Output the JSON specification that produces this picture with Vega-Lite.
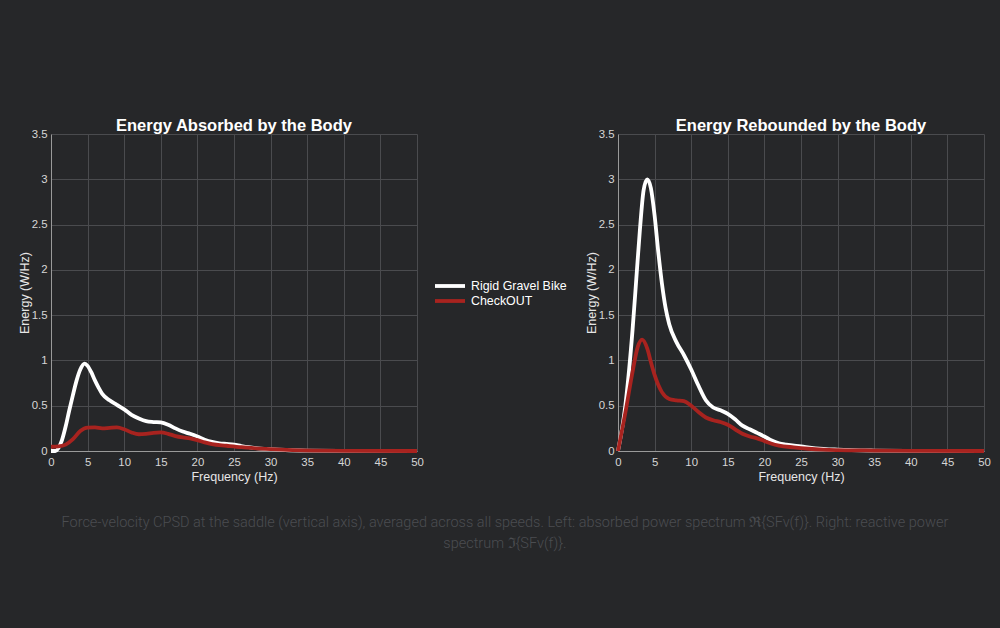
{
  "$schema": "https://vega.github.io/schema/vega-lite/v6.json",
  "background": "#262729",
  "padding": {"left": 18, "top": 117, "right": 10, "bottom": 79},
  "title": {
    "text": ["Force-velocity CPSD at the saddle (vertical axis), averaged across all speeds. Left: absorbed power spectrum ℜ{SFv(f)}. Right: reactive power", "spectrum ℑ{SFv(f)}."],
    "orient": "bottom",
    "anchor": "middle",
    "frame": "bounds",
    "font": "Roboto",
    "fontWeight": 300,
    "fontSize": 14.5,
    "lineHeight": 21,
    "color": "#4b4d51",
    "offset": 33
  },
  "datasets": {
    "spectra": [
      {"panel": "A", "s": "Rigid Gravel Bike", "f": 0, "e": 0.0},
      {"panel": "A", "s": "Rigid Gravel Bike", "f": 0.6, "e": 0.0},
      {"panel": "A", "s": "Rigid Gravel Bike", "f": 1, "e": 0.03},
      {"panel": "A", "s": "Rigid Gravel Bike", "f": 1.5, "e": 0.12},
      {"panel": "A", "s": "Rigid Gravel Bike", "f": 2, "e": 0.27},
      {"panel": "A", "s": "Rigid Gravel Bike", "f": 2.5, "e": 0.45},
      {"panel": "A", "s": "Rigid Gravel Bike", "f": 3, "e": 0.62},
      {"panel": "A", "s": "Rigid Gravel Bike", "f": 3.5, "e": 0.78},
      {"panel": "A", "s": "Rigid Gravel Bike", "f": 4, "e": 0.9},
      {"panel": "A", "s": "Rigid Gravel Bike", "f": 4.6, "e": 0.965},
      {"panel": "A", "s": "Rigid Gravel Bike", "f": 5, "e": 0.94},
      {"panel": "A", "s": "Rigid Gravel Bike", "f": 5.5, "e": 0.87},
      {"panel": "A", "s": "Rigid Gravel Bike", "f": 6, "e": 0.78},
      {"panel": "A", "s": "Rigid Gravel Bike", "f": 6.5, "e": 0.7},
      {"panel": "A", "s": "Rigid Gravel Bike", "f": 7, "e": 0.63},
      {"panel": "A", "s": "Rigid Gravel Bike", "f": 8, "e": 0.56},
      {"panel": "A", "s": "Rigid Gravel Bike", "f": 9, "e": 0.51},
      {"panel": "A", "s": "Rigid Gravel Bike", "f": 10, "e": 0.46},
      {"panel": "A", "s": "Rigid Gravel Bike", "f": 11, "e": 0.4},
      {"panel": "A", "s": "Rigid Gravel Bike", "f": 12, "e": 0.36},
      {"panel": "A", "s": "Rigid Gravel Bike", "f": 13, "e": 0.33},
      {"panel": "A", "s": "Rigid Gravel Bike", "f": 14, "e": 0.32},
      {"panel": "A", "s": "Rigid Gravel Bike", "f": 15, "e": 0.315},
      {"panel": "A", "s": "Rigid Gravel Bike", "f": 16, "e": 0.29},
      {"panel": "A", "s": "Rigid Gravel Bike", "f": 17, "e": 0.25},
      {"panel": "A", "s": "Rigid Gravel Bike", "f": 18, "e": 0.215},
      {"panel": "A", "s": "Rigid Gravel Bike", "f": 19, "e": 0.19},
      {"panel": "A", "s": "Rigid Gravel Bike", "f": 20, "e": 0.16},
      {"panel": "A", "s": "Rigid Gravel Bike", "f": 21, "e": 0.125},
      {"panel": "A", "s": "Rigid Gravel Bike", "f": 22, "e": 0.1},
      {"panel": "A", "s": "Rigid Gravel Bike", "f": 23, "e": 0.085},
      {"panel": "A", "s": "Rigid Gravel Bike", "f": 24, "e": 0.078},
      {"panel": "A", "s": "Rigid Gravel Bike", "f": 25, "e": 0.07},
      {"panel": "A", "s": "Rigid Gravel Bike", "f": 26, "e": 0.055},
      {"panel": "A", "s": "Rigid Gravel Bike", "f": 27, "e": 0.042},
      {"panel": "A", "s": "Rigid Gravel Bike", "f": 28, "e": 0.032},
      {"panel": "A", "s": "Rigid Gravel Bike", "f": 30, "e": 0.02},
      {"panel": "A", "s": "Rigid Gravel Bike", "f": 32, "e": 0.011},
      {"panel": "A", "s": "Rigid Gravel Bike", "f": 35, "e": 0.005},
      {"panel": "A", "s": "Rigid Gravel Bike", "f": 40, "e": 0.002},
      {"panel": "A", "s": "Rigid Gravel Bike", "f": 45, "e": 0.001},
      {"panel": "A", "s": "Rigid Gravel Bike", "f": 50, "e": 0.0},
      {"panel": "A", "s": "CheckOUT", "f": 0, "e": 0.047},
      {"panel": "A", "s": "CheckOUT", "f": 1, "e": 0.05},
      {"panel": "A", "s": "CheckOUT", "f": 2, "e": 0.07},
      {"panel": "A", "s": "CheckOUT", "f": 3, "e": 0.13},
      {"panel": "A", "s": "CheckOUT", "f": 4, "e": 0.22},
      {"panel": "A", "s": "CheckOUT", "f": 5, "e": 0.258},
      {"panel": "A", "s": "CheckOUT", "f": 6, "e": 0.26},
      {"panel": "A", "s": "CheckOUT", "f": 7, "e": 0.25},
      {"panel": "A", "s": "CheckOUT", "f": 8, "e": 0.255},
      {"panel": "A", "s": "CheckOUT", "f": 9, "e": 0.26},
      {"panel": "A", "s": "CheckOUT", "f": 10, "e": 0.24},
      {"panel": "A", "s": "CheckOUT", "f": 11, "e": 0.205},
      {"panel": "A", "s": "CheckOUT", "f": 12, "e": 0.185},
      {"panel": "A", "s": "CheckOUT", "f": 13, "e": 0.19},
      {"panel": "A", "s": "CheckOUT", "f": 14, "e": 0.2},
      {"panel": "A", "s": "CheckOUT", "f": 15, "e": 0.205},
      {"panel": "A", "s": "CheckOUT", "f": 16, "e": 0.19},
      {"panel": "A", "s": "CheckOUT", "f": 17, "e": 0.165},
      {"panel": "A", "s": "CheckOUT", "f": 18, "e": 0.15},
      {"panel": "A", "s": "CheckOUT", "f": 19, "e": 0.14},
      {"panel": "A", "s": "CheckOUT", "f": 20, "e": 0.12},
      {"panel": "A", "s": "CheckOUT", "f": 21, "e": 0.095},
      {"panel": "A", "s": "CheckOUT", "f": 22, "e": 0.075},
      {"panel": "A", "s": "CheckOUT", "f": 24, "e": 0.058},
      {"panel": "A", "s": "CheckOUT", "f": 26, "e": 0.042},
      {"panel": "A", "s": "CheckOUT", "f": 28, "e": 0.03},
      {"panel": "A", "s": "CheckOUT", "f": 30, "e": 0.02},
      {"panel": "A", "s": "CheckOUT", "f": 33, "e": 0.01},
      {"panel": "A", "s": "CheckOUT", "f": 36, "e": 0.005},
      {"panel": "A", "s": "CheckOUT", "f": 40, "e": 0.002},
      {"panel": "A", "s": "CheckOUT", "f": 50, "e": 0.0},
      {"panel": "R", "s": "Rigid Gravel Bike", "f": 0, "e": 0.0},
      {"panel": "R", "s": "Rigid Gravel Bike", "f": 1, "e": 0.5},
      {"panel": "R", "s": "Rigid Gravel Bike", "f": 2, "e": 1.35},
      {"panel": "R", "s": "Rigid Gravel Bike", "f": 2.5, "e": 1.9},
      {"panel": "R", "s": "Rigid Gravel Bike", "f": 3, "e": 2.45},
      {"panel": "R", "s": "Rigid Gravel Bike", "f": 3.5, "e": 2.88},
      {"panel": "R", "s": "Rigid Gravel Bike", "f": 4, "e": 3.0},
      {"panel": "R", "s": "Rigid Gravel Bike", "f": 4.5, "e": 2.9},
      {"panel": "R", "s": "Rigid Gravel Bike", "f": 5, "e": 2.6},
      {"panel": "R", "s": "Rigid Gravel Bike", "f": 5.5, "e": 2.2},
      {"panel": "R", "s": "Rigid Gravel Bike", "f": 6, "e": 1.85},
      {"panel": "R", "s": "Rigid Gravel Bike", "f": 6.5, "e": 1.58},
      {"panel": "R", "s": "Rigid Gravel Bike", "f": 7, "e": 1.4},
      {"panel": "R", "s": "Rigid Gravel Bike", "f": 8, "e": 1.2},
      {"panel": "R", "s": "Rigid Gravel Bike", "f": 9, "e": 1.06},
      {"panel": "R", "s": "Rigid Gravel Bike", "f": 10, "e": 0.9},
      {"panel": "R", "s": "Rigid Gravel Bike", "f": 11, "e": 0.72},
      {"panel": "R", "s": "Rigid Gravel Bike", "f": 12, "e": 0.56},
      {"panel": "R", "s": "Rigid Gravel Bike", "f": 13, "e": 0.48},
      {"panel": "R", "s": "Rigid Gravel Bike", "f": 14, "e": 0.45},
      {"panel": "R", "s": "Rigid Gravel Bike", "f": 15, "e": 0.41},
      {"panel": "R", "s": "Rigid Gravel Bike", "f": 16, "e": 0.35},
      {"panel": "R", "s": "Rigid Gravel Bike", "f": 17, "e": 0.28},
      {"panel": "R", "s": "Rigid Gravel Bike", "f": 18, "e": 0.24},
      {"panel": "R", "s": "Rigid Gravel Bike", "f": 19, "e": 0.2},
      {"panel": "R", "s": "Rigid Gravel Bike", "f": 20, "e": 0.16},
      {"panel": "R", "s": "Rigid Gravel Bike", "f": 21, "e": 0.115},
      {"panel": "R", "s": "Rigid Gravel Bike", "f": 22, "e": 0.085},
      {"panel": "R", "s": "Rigid Gravel Bike", "f": 23, "e": 0.07},
      {"panel": "R", "s": "Rigid Gravel Bike", "f": 25, "e": 0.05},
      {"panel": "R", "s": "Rigid Gravel Bike", "f": 27, "e": 0.03},
      {"panel": "R", "s": "Rigid Gravel Bike", "f": 30, "e": 0.015},
      {"panel": "R", "s": "Rigid Gravel Bike", "f": 35, "e": 0.005},
      {"panel": "R", "s": "Rigid Gravel Bike", "f": 40, "e": 0.002},
      {"panel": "R", "s": "Rigid Gravel Bike", "f": 50, "e": 0.0},
      {"panel": "R", "s": "CheckOUT", "f": 0, "e": 0.0},
      {"panel": "R", "s": "CheckOUT", "f": 1, "e": 0.42},
      {"panel": "R", "s": "CheckOUT", "f": 2, "e": 0.88},
      {"panel": "R", "s": "CheckOUT", "f": 2.7, "e": 1.15},
      {"panel": "R", "s": "CheckOUT", "f": 3.3, "e": 1.23},
      {"panel": "R", "s": "CheckOUT", "f": 4, "e": 1.13},
      {"panel": "R", "s": "CheckOUT", "f": 4.5, "e": 0.98},
      {"panel": "R", "s": "CheckOUT", "f": 5, "e": 0.84},
      {"panel": "R", "s": "CheckOUT", "f": 6, "e": 0.65},
      {"panel": "R", "s": "CheckOUT", "f": 7, "e": 0.575},
      {"panel": "R", "s": "CheckOUT", "f": 8, "e": 0.56},
      {"panel": "R", "s": "CheckOUT", "f": 9, "e": 0.55},
      {"panel": "R", "s": "CheckOUT", "f": 10, "e": 0.5},
      {"panel": "R", "s": "CheckOUT", "f": 11, "e": 0.43},
      {"panel": "R", "s": "CheckOUT", "f": 12, "e": 0.37},
      {"panel": "R", "s": "CheckOUT", "f": 13, "e": 0.34},
      {"panel": "R", "s": "CheckOUT", "f": 14, "e": 0.32},
      {"panel": "R", "s": "CheckOUT", "f": 15, "e": 0.29},
      {"panel": "R", "s": "CheckOUT", "f": 16, "e": 0.24},
      {"panel": "R", "s": "CheckOUT", "f": 17, "e": 0.19},
      {"panel": "R", "s": "CheckOUT", "f": 18, "e": 0.16},
      {"panel": "R", "s": "CheckOUT", "f": 19, "e": 0.14},
      {"panel": "R", "s": "CheckOUT", "f": 20, "e": 0.11},
      {"panel": "R", "s": "CheckOUT", "f": 21, "e": 0.08},
      {"panel": "R", "s": "CheckOUT", "f": 22, "e": 0.06},
      {"panel": "R", "s": "CheckOUT", "f": 24, "e": 0.04},
      {"panel": "R", "s": "CheckOUT", "f": 26, "e": 0.025},
      {"panel": "R", "s": "CheckOUT", "f": 28, "e": 0.015},
      {"panel": "R", "s": "CheckOUT", "f": 30, "e": 0.01},
      {"panel": "R", "s": "CheckOUT", "f": 35, "e": 0.005},
      {"panel": "R", "s": "CheckOUT", "f": 40, "e": 0.002},
      {"panel": "R", "s": "CheckOUT", "f": 50, "e": 0.0}
    ]
  },
  "data": {"name": "spectra"},
  "spacing": 160,
  "hconcat": [
    {
      "title": "Energy Absorbed by the Body",
      "width": 366,
      "height": 317,
      "transform": [{"filter": "datum.panel === 'A'"}],
      "mark": {"type": "line", "interpolate": "monotone", "strokeWidth": 3.8},
      "encoding": {
        "x": {"field": "f", "type": "quantitative", "title": "Frequency (Hz)", "scale": {"domain": [0, 50], "nice": false}, "axis": {"values": [0, 5, 10, 15, 20, 25, 30, 35, 40, 45, 50], "format": "d"}},
        "y": {"field": "e", "type": "quantitative", "title": "Energy (W/Hz)", "scale": {"domain": [0, 3.5], "nice": false}, "axis": {"values": [0, 0.5, 1, 1.5, 2, 2.5, 3, 3.5], "format": "~g"}},
        "color": {"field": "s", "type": "nominal", "sort": ["Rigid Gravel Bike", "CheckOUT"], "scale": {"domain": ["Rigid Gravel Bike", "CheckOUT"], "range": ["#ffffff", "#a8231f"]}, "legend": {"title": null}}
      }
    },
    {
      "title": "Energy Rebounded by the Body",
      "width": 366,
      "height": 317,
      "transform": [{"filter": "datum.panel === 'R'"}],
      "mark": {"type": "line", "interpolate": "monotone", "strokeWidth": 3.8},
      "encoding": {
        "x": {"field": "f", "type": "quantitative", "title": "Frequency (Hz)", "scale": {"domain": [0, 50], "nice": false}, "axis": {"values": [0, 5, 10, 15, 20, 25, 30, 35, 40, 45, 50], "format": "d"}},
        "y": {"field": "e", "type": "quantitative", "title": "Energy (W/Hz)", "scale": {"domain": [0, 3.5], "nice": false}, "axis": {"values": [0, 0.5, 1, 1.5, 2, 2.5, 3, 3.5], "format": "~g"}},
        "color": {"field": "s", "type": "nominal", "sort": ["Rigid Gravel Bike", "CheckOUT"], "scale": {"domain": ["Rigid Gravel Bike", "CheckOUT"], "range": ["#ffffff", "#a8231f"]}, "legend": {"title": null}}
      }
    }
  ],
  "config": {
    "font": "Liberation Sans",
    "view": {"stroke": null},
    "title": {"fontSize": 16.5, "fontWeight": "bold", "color": "#ffffff", "frame": "group", "anchor": "middle", "offset": -6},
    "axis": {
      "domainColor": "#9a9a9a",
      "domainWidth": 1,
      "gridColor": "#4a4b4e",
      "gridWidth": 1,
      "gridOpacity": 1,
      "ticks": false,
      "labelFlush": false,
      "labelOverlap": false,
      "labelColor": "#d6d6d6",
      "labelFontSize": 11.4,
      "titleColor": "#e6e6e6",
      "titleFontSize": 12.5,
      "titleFontWeight": "normal"
    },
    "axisX": {"labelPadding": 5, "titlePadding": 3},
    "axisY": {"labelPadding": 4, "titlePadding": 0},
    "legend": {
      "orient": "none",
      "legendX": 382,
      "legendY": 145,
      "symbolType": "M-1,0H5",
      "symbolStrokeWidth": 3.8,
      "symbolSize": 100,
      "labelColor": "#ffffff",
      "labelFontSize": 12.4,
      "labelOffset": 24,
      "rowPadding": -1.5,
      "padding": 0
    }
  }
}
